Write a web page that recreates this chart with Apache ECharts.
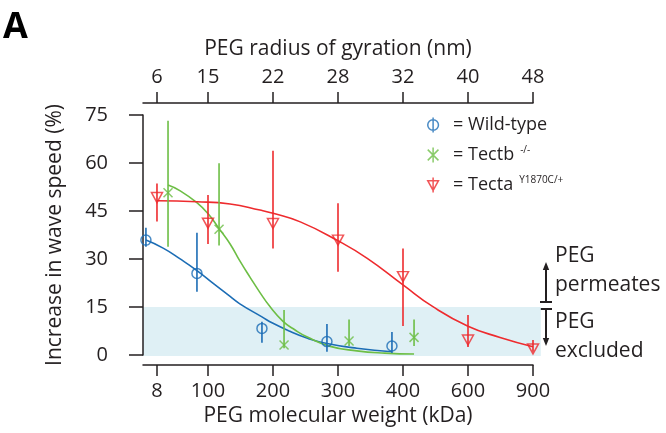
<!DOCTYPE html>
<html><head><meta charset="utf-8">
<script src="https://cdn.jsdelivr.net/npm/echarts@6/dist/echarts.min.js"></script>
<style>html,body{margin:0;padding:0;background:#fff}#c{width:666px;height:433px}</style>
</head><body><div id="c"></div>
<script>
// ---- tick labels ----
const mwTicks = [8, 100, 200, 300, 400, 600, 900];      // PEG molecular weight (kDa)
const rgTicks = [6, 15, 22, 28, 32, 40, 48];            // PEG radius of gyration (nm)

// ---- measured values ----
const wtMW   = [8, 100, 200, 300, 400];
const wtMean = [35.9, 25.5, 8.3, 4.2, 2.8];
const wtLow  = [33.8, 19.8, 3.8, 1.0, 0.6];
const wtHigh = [39.8, 38.2, 10.4, 9.7, 7.2];

const tbMW   = [8, 100, 200, 300, 400];
const tbMean = [50.7, 39.3, 3.1, 4.4, 5.5];
const tbLow  = [33.8, 34.2, 2.1, 2.8, 2.8];
const tbHigh = [73.2, 59.9, 14.1, 11.1, 11.1];

const taMW   = [8, 100, 200, 300, 400, 600, 900];
const taMean = [49.2, 41.2, 41.1, 35.9, 24.5, 4.7, 1.9];
const taLow  = [41.7, 34.7, 33.3, 26.0, 9.1, 2.5, 1.0];
const taHigh = [53.6, 50.0, 63.8, 47.4, 33.3, 12.5, 4.7];

// ---- fitted curves ----
const wtFitMW  = [8, 39, 69, 100, 125, 151, 166, 200, 217, 243, 269, 300, 346, 400];
const wtFitVal = [35.9, 33.4, 30.1, 26.4, 22.4, 18.3, 16.0, 11.9, 9.9, 7.4, 5.3, 3.6, 2.1, 1.0];
const tbFitMW  = [8, 30, 60, 80, 100, 117, 132, 148, 163, 178, 198, 217, 235, 271, 312, 355, 400];
const tbFitVal = [53.1, 51.3, 47.6, 44.2, 39.5, 34.7, 29.4, 24.2, 19.5, 15.2, 10.6, 7.8, 5.7, 2.7, 1.3, 0.6, 0.3];
const taFitMW  = [8, 80, 134, 180, 200, 242, 300, 345, 400, 492, 600, 748, 900];
const taFitVal = [48.2, 47.9, 47.2, 45.3, 44.3, 41.6, 35.7, 30.2, 21.9, 15.1, 9.0, 5.5, 2.6];

const excludedBand = [0, 15];   // "PEG excluded" range (%)

// ---- layout (axis is an irregular scale: ticks placed at these axis units) ----
const tickPos = [0.215, 1, 2, 3, 4, 5, 6];
const dodge = { wt: -0.17, tb: 0.17, ta: 0 };
function pos(mw) {
  for (let i = 0; i < mwTicks.length - 1; i++) {
    if (mw <= mwTicks[i + 1] || i === mwTicks.length - 2) {
      const t = (mw - mwTicks[i]) / (mwTicks[i + 1] - mwTicks[i]);
      return tickPos[i] + t * (tickPos[i + 1] - tickPos[i]);
    }
  }
}
function labelFor(list) {
  return function (v) {
    for (let i = 0; i < tickPos.length; i++) if (Math.abs(tickPos[i] - v) < 1e-6) return String(list[i]);
    return '';
  };
}

const BLUE = '#1c6db5', GREEN = '#6dbe45', RED = '#ee2b2e', INK = '#231f20', SHADE = '#dff0f5';
const FONT = '"Open Sans", "Noto Sans", sans-serif';

function pts(mws, vals, off) { return mws.map((m, i) => [pos(m) + off, vals[i]]); }
function errs(mws, lo, hi, off) { return mws.map((m, i) => [pos(m) + off, lo[i], hi[i]]); }

function errSeries(name, data, color) {
  return {
    type: 'custom', name: name, data: data, z: 3, silent: true,
    encode: { x: 0, y: [1, 2] },
    renderItem: function (params, api) {
      const a = api.coord([api.value(0), api.value(1)]);
      const b = api.coord([api.value(0), api.value(2)]);
      return { type: 'line', shape: { x1: a[0], y1: a[1], x2: b[0], y2: b[1] },
               style: { stroke: color, lineWidth: 1.6 } };
    }
  };
}
function fitSeries(name, data, color) {
  return { type: 'line', name: name, data: data, showSymbol: false, smooth: 0.5, z: 2,
           lineStyle: { color: color, width: 1.6 }, silent: true };
}

const axisCommon = {
  type: 'value', min: 0, max: 6,
  splitLine: { show: false },
  axisLine: { show: true, onZero: false, lineStyle: { color: INK, width: 1.5 } },
  axisTick: { show: true, length: 11, customValues: tickPos, lineStyle: { color: INK, width: 1.5 } },
  nameLocation: 'middle',
  nameTextStyle: { fontSize: 21, color: INK, fontFamily: FONT }
};

const chart = echarts.init(document.getElementById('c'), null, { renderer: 'canvas' });
chart.setOption({
  animation: false,
  backgroundColor: '#fff',
  grid: { left: 143, right: 133, top: 115, bottom: 78, outerBoundsMode: 'none' },
  xAxis: [
    Object.assign({}, axisCommon, {
      position: 'bottom', offset: 10,
      name: 'PEG molecular weight (kDa)', nameGap: 40,
      axisLabel: { customValues: tickPos, formatter: labelFor(mwTicks), fontSize: 20, color: INK, fontFamily: FONT, margin: 16 }
    }),
    Object.assign({}, axisCommon, {
      position: 'top', offset: 12,
      name: 'PEG radius of gyration (nm)', nameGap: 43,
      axisLabel: { customValues: tickPos, formatter: labelFor(rgTicks), fontSize: 20, color: INK, fontFamily: FONT, margin: 16 }
    })
  ],
  yAxis: {
    type: 'value', min: 0, max: 75, interval: 15, offset: 12,
    splitLine: { show: false },
    axisLine: { show: true, lineStyle: { color: INK, width: 1.5 } },
    axisTick: { show: true, length: 14, lineStyle: { color: INK, width: 1.5 } },
    axisLabel: { fontSize: 20, color: INK, fontFamily: FONT, margin: 23 },
    name: 'Increase in wave speed (%)', nameLocation: 'middle', nameGap: 65,
    nameTextStyle: { fontSize: 21, color: INK, fontFamily: FONT }
  },
  legend: {
    orient: 'vertical', left: 427, top: 115, padding: 0,
    itemWidth: 12, itemHeight: 15, itemGap: 10, selectedMode: false,
    textStyle: {
      fontSize: 18, color: INK, fontFamily: FONT, lineHeight: 20, padding: [0, 0, 0, 9],
      rich: { sup: { fontSize: 10, lineHeight: 6, verticalAlign: 'top', padding: [0, 0, 0, 6], color: INK, fontFamily: FONT } }
    },
    formatter: function (n) {
      if (n === 'Wild-type') return '= Wild-type';
      if (n === 'Tectb') return '= Tectb{sup|-/-}';
      return '= Tecta{sup|Y1870C/+}';
    },
    data: [
      { name: 'Wild-type', icon: 'path://M5,0 L5,14 M0,7 A5,5 0 1 1 10,7 A5,5 0 1 1 0,7 Z',
        itemStyle: { color: 'transparent', borderColor: BLUE, borderWidth: 1.5 } },
      { name: 'Tectb', icon: 'path://M0,2 L10,12 M10,2 L0,12 M5,0 L5,14',
        itemStyle: { color: 'transparent', borderColor: GREEN, borderWidth: 1.5 } },
      { name: 'Tecta', icon: 'path://M0,3 L10,3 L5,12 Z M5,0 L5,14',
        itemStyle: { color: 'transparent', borderColor: RED, borderWidth: 1.5 } }
    ]
  },
  series: [
    {
      type: 'custom', name: 'excluded', z: 0, silent: true, clip: false,
      data: [excludedBand],
      renderItem: function (params, api) {
        const a = api.coord([0.0, api.value(1)]);
        const b = api.coord([6.12, api.value(0) - 0.3]);
        return { type: 'rect', shape: { x: a[0], y: a[1], width: b[0] - a[0], height: b[1] - a[1] },
                 style: { fill: SHADE } };
      }
    },
    fitSeries('Wild-type fit', pts(wtFitMW, wtFitVal, dodge.wt), BLUE),
    fitSeries('Tectb fit', pts(tbFitMW, tbFitVal, dodge.tb), GREEN),
    fitSeries('Tecta fit', pts(taFitMW, taFitVal, dodge.ta), RED),
    errSeries('Wild-type err', errs(wtMW, wtLow, wtHigh, dodge.wt), BLUE),
    errSeries('Tectb err', errs(tbMW, tbLow, tbHigh, dodge.tb), GREEN),
    errSeries('Tecta err', errs(taMW, taLow, taHigh, dodge.ta), RED),
    { type: 'scatter', name: 'Wild-type', data: pts(wtMW, wtMean, dodge.wt), z: 4,
      symbol: 'circle', symbolSize: 10,
      itemStyle: { color: 'transparent', borderColor: BLUE, borderWidth: 1.5 } },
    { type: 'scatter', name: 'Tectb', data: pts(tbMW, tbMean, dodge.tb), z: 4,
      symbol: 'path://M0,0 L10,10 M10,0 L0,10', symbolSize: 9,
      itemStyle: { color: 'transparent', borderColor: GREEN, borderWidth: 1.5 } },
    { type: 'scatter', name: 'Tecta', data: pts(taMW, taMean, dodge.ta), z: 4,
      symbol: 'triangle', symbolRotate: 180, symbolSize: [11, 10],
      itemStyle: { color: 'transparent', borderColor: RED, borderWidth: 1.5 } }
  ],
  graphic: [
    { type: 'text', x: 3, y: 28, style: { text: 'A', font: 'bold 36px ' + FONT, fill: '#000', verticalAlign: 'middle' } },
    // PEG permeates arrow
    { type: 'line', shape: { x1: 546, y1: 302, x2: 546, y2: 268 }, style: { stroke: INK, lineWidth: 2 } },
    { type: 'polygon', shape: { points: [[546, 262], [542.8, 270], [549.2, 270]] }, style: { fill: INK } },
    { type: 'line', shape: { x1: 540, y1: 302, x2: 552, y2: 302 }, style: { stroke: INK, lineWidth: 2 } },
    // PEG excluded arrow
    { type: 'line', shape: { x1: 540, y1: 309, x2: 552, y2: 309 }, style: { stroke: INK, lineWidth: 2 } },
    { type: 'line', shape: { x1: 546, y1: 309, x2: 546, y2: 340 }, style: { stroke: INK, lineWidth: 2 } },
    { type: 'polygon', shape: { points: [[546, 346], [542.8, 338], [549.2, 338]] }, style: { fill: INK } },
    { type: 'text', x: 555, y: 256, style: { text: 'PEG', font: '21px ' + FONT, fill: INK, verticalAlign: 'middle' } },
    { type: 'text', x: 555, y: 285, style: { text: 'permeates', font: '21px ' + FONT, fill: INK, verticalAlign: 'middle' } },
    { type: 'text', x: 555, y: 322, style: { text: 'PEG', font: '21px ' + FONT, fill: INK, verticalAlign: 'middle' } },
    { type: 'text', x: 555, y: 351, style: { text: 'excluded', font: '21px ' + FONT, fill: INK, verticalAlign: 'middle' } }
  ]
});
</script></body></html>
